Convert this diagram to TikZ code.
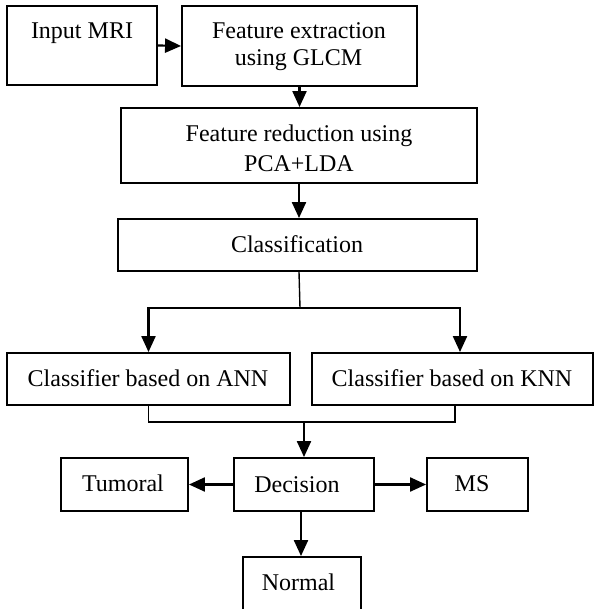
\documentclass[tikz,border=0pt]{standalone}
\usepackage{fontspec}
\setmainfont{Liberation Serif}
\usetikzlibrary{arrows.meta,calc}
\begin{document}
\begin{tikzpicture}[x=1pt,y=-1pt,
  box/.style={draw, line width=1.9pt, inner sep=0pt},
  txt/.style={font=\fontsize{24}{28}\selectfont, anchor=base, inner sep=0pt},
  arr/.style={line width=2.2pt, -{Triangle[length=16pt,width=14pt]}},
  ln/.style={line width=1.4pt}]
\useasboundingbox (0,0) rectangle (594,609);
% boxes
\node[box, minimum width=150pt, minimum height=79pt] (in) at (82,45.5) {};
\node[box, minimum width=235pt, minimum height=80pt] (fe) at (299.5,46) {};
\node[box, minimum width=356pt, minimum height=75pt] (fr) at (299,145.5) {};
\node[box, minimum width=359pt, minimum height=52pt] (cls) at (297.5,245) {};
\node[box, minimum width=283pt, minimum height=52pt] (ann) at (148.5,379) {};
\node[box, minimum width=281pt, minimum height=52pt] (knn) at (452.5,379) {};
\node[box, minimum width=127pt, minimum height=53pt] (tum) at (124.5,484.5) {};
\node[box, minimum width=140pt, minimum height=53pt] (dec) at (304,484.5) {};
\node[box, minimum width=101pt, minimum height=53pt] (ms) at (477.5,484.5) {};
\node[box, minimum width=118pt, minimum height=58pt] (nor) at (302,586) {};
% texts
\node[txt] (tin) at (82,39) {Input MRI};
\node[txt] (tfe1) at (299,39) {Feature extraction};
\node[txt] (tfe2) at (298.5,66) {using GLCM};
\node[txt] (tfr1) at (299,142) {Feature reduction using};
\node[txt] (tfr2) at (299,172) {PCA+LDA};
\node[txt] (tcls) at (297,252) {Classification};
\node[txt] (tann) at (148,386) {Classifier based on ANN};
\node[txt] (tknn) at (452,386) {Classifier based on KNN};
\node[txt] (ttum) at (123,491) {Tumoral};
\node[txt] (tdec) at (297,492) {Decision};
\node[txt] (tms) at (472,491) {MS};
\node[txt] (tnor) at (298.5,590) {Normal};
% connectors
\draw[arr] (in.east) -- (fe.west);
\draw[arr] (fe.south) -- (fe.south |- fr.north);
\draw[arr] (fr.south) -- (fr.south |- cls.north);
\draw[ln] ([xshift=1.5pt]cls.south) -- ++(1,36) coordinate (br);
\draw[arr] (br) -| (ann.north);
\draw[arr] (br) -| ($(knn.north)+(7.5,0)$);
\draw[ln] (ann.south) -- ++(0,16) coordinate (jl) -- ($(knn.south)+(2.5,16)$) coordinate (jr) -- ($(knn.south)+(2.5,0)$);
\draw[arr] (dec.north |- jl) -- (dec.north);
\draw[arr] (dec.west) -- (tum.east);
\draw[arr] (dec.east) -- (ms.west);
\draw[arr] ([xshift=-3pt]dec.south) -- ([xshift=-1pt]nor.north);
\end{tikzpicture}
\end{document}
